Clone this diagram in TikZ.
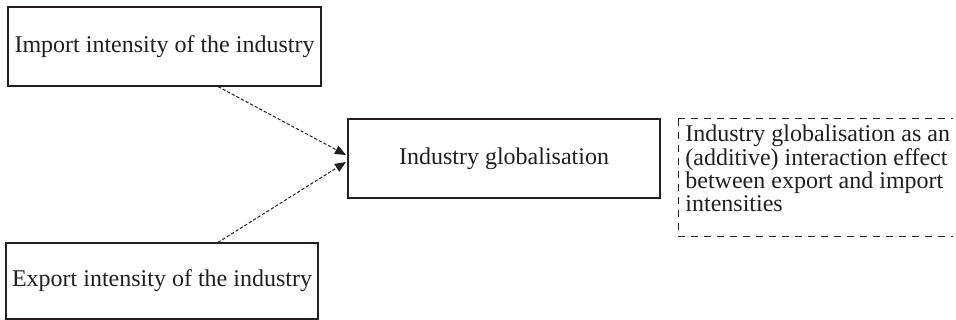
\documentclass[tikz,border=0pt]{standalone}
\usepackage{fontspec}
\setmainfont{Liberation Serif}
\usetikzlibrary{arrows.meta}
\definecolor{ink}{HTML}{231F20}
\begin{document}
\begin{tikzpicture}[x=0.5pt,y=-0.5pt,
  every node/.style={font=\fontsize{12}{10}\selectfont, text=ink},
  solidbox/.style={draw=ink, line width=0.6pt, inner sep=0pt},
  dasharrow/.style={draw=ink, line width=0.5pt, dash pattern=on 1.6pt off 1pt,
    -{Triangle[length=5.5pt,width=4.5pt]}},
  dashframe/.style={draw=ink, line width=0.5pt, dash pattern=on 3.5pt off 3pt}]
\useasboundingbox (0,0) rectangle (956,320);
% boxes
\node[solidbox, minimum width=156.5pt, minimum height=39.5pt] (imp) at (164.5,46.5) {Import intensity of the industry};
\node[solidbox, minimum width=156pt, minimum height=38pt] (exp) at (162,281) {\raisebox{-2pt}{Export intensity of the industry}};
\node[solidbox, minimum width=156pt, minimum height=39.5pt] (glob) at (504,158.5) {Industry globalisation};
% dashed open frame (right side open)
\coordinate (ftop) at (953,119);
\coordinate (ftl) at (678,119);
\coordinate (fbl) at (678,236);
\coordinate (fbot) at (953,236);
\draw[dashframe] (ftl) -- (ftop);
\draw[dashframe] (ftl) -- (fbl) -- (fbot);
\node[anchor=north west, inner sep=0pt, align=left] (note) at (685,124)
  {Industry globalisation as an\\(additive) interaction effect\\between export and import\\intensities};
% arrows
\coordinate (t1) at (346,155);
\coordinate (t2) at (346,162);
\draw[dasharrow] (imp.south -| 218,0) -- (t1);
\draw[dasharrow] (exp.north -| 218,0) -- (t2);
\end{tikzpicture}
\end{document}
